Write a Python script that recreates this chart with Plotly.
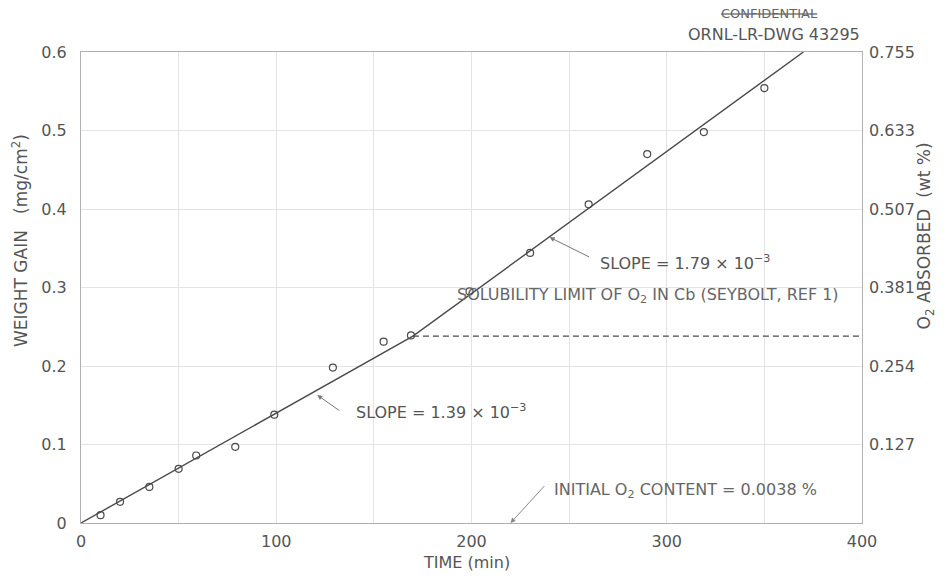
import plotly.graph_objects as go

# Measured data points (open circles)
time_min = [10, 20, 35, 50, 59, 79, 99, 129, 155, 169, 199, 230, 260, 290, 319, 350]
weight_gain = [0.010, 0.027, 0.046, 0.069, 0.086, 0.097, 0.138, 0.198, 0.231, 0.239,
               0.295, 0.344, 0.406, 0.470, 0.498, 0.554]

# Fitted two-slope line
fit_time = [0, 170, 370]
fit_gain = [0, 0.238, 0.6]

# Solubility limit
sol_time = [170, 400]
sol_gain = [0.238, 0.238]

# Axis ticks
left_ticks = [0, 0.1, 0.2, 0.3, 0.4, 0.5, 0.6]
left_labels = ["0", "0.1", "0.2", "0.3", "0.4", "0.5", "0.6"]
right_ticks = [0.1, 0.2, 0.3, 0.4, 0.5, 0.6]
right_labels = ["0.127", "0.254", "0.381", "0.507", "0.633", "0.755"]
x_ticks = [0, 100, 200, 300, 400]

INK = "#4a4a4a"
TXT = "#555"
FONT = "DejaVu Sans"

fig = go.Figure()
fig.add_trace(go.Scatter(x=fit_time, y=fit_gain, mode="lines",
                         line=dict(color=INK, width=1.4), showlegend=False))
fig.add_trace(go.Scatter(x=sol_time, y=sol_gain, mode="lines",
                         line=dict(color=INK, width=1.3, dash="6px,4px"), showlegend=False))
fig.add_trace(go.Scatter(x=time_min, y=weight_gain, mode="markers",
                         marker=dict(symbol="circle-open", size=7, color=INK,
                                     line=dict(width=1.2, color=INK)),
                         showlegend=False))
# invisible trace for right axis
fig.add_trace(go.Scatter(x=[0], y=[0], yaxis="y2", mode="markers",
                         marker=dict(opacity=0), showlegend=False, hoverinfo="skip"))

grid = "#e4e4e4"
axline = "#b0b0b0"
fig.update_layout(
    width=947, height=579,
    margin=dict(l=81, r=85, t=52, b=56),
    paper_bgcolor="white", plot_bgcolor="white",
    font=dict(family=FONT, size=15, color=TXT),
    xaxis=dict(range=[0, 400], tickvals=x_ticks, showgrid=True, gridcolor=grid,
               minor=dict(dtick=50, showgrid=True, gridcolor=grid),
               showline=True, linecolor=axline, mirror=True, zeroline=False,
               ticks="", ticklabelstandoff=4, tickfont=dict(size=16, color=TXT)),
    yaxis=dict(range=[0, 0.6], tickvals=left_ticks, ticktext=left_labels,
               showgrid=True, gridcolor=grid, zeroline=False,
               showline=True, linecolor=axline, mirror=True, ticks="",
               ticklabelstandoff=10, tickfont=dict(size=16, color=TXT)),
    yaxis2=dict(range=[0, 0.6], overlaying="y", side="right",
                tickvals=right_ticks, ticktext=right_labels, showgrid=False,
                zeroline=False, showline=False, ticks="", ticklabelstandoff=6,
                tickfont=dict(size=16, color=TXT)),
)

def paper_note(x, y, text, size, angle=0, anchor="center", color=TXT):
    return dict(xref="paper", yref="paper", x=x, y=y, text=text, textangle=angle,
                xanchor=anchor, yanchor="middle", showarrow=False,
                font=dict(size=size, color=color))

ann = []
ann.append(paper_note(-0.078, 0.599, "WEIGHT GAIN&nbsp;&nbsp;&nbsp;(mg/cm<sup>2</sup>)", 17, -90))
ann.append(paper_note(1.081, 0.609, "O<sub>2</sub> ABSORBED&nbsp;&nbsp;(wt %)", 17, -90))
ann.append(paper_note(0.494, -0.083, "TIME (min)", 16))
ann.append(paper_note(1.0, 1.038, "ORNL-LR-DWG 43295", 16, anchor="right"))
ann.append(paper_note(0.882, 1.081, "<s>CONFIDENTIAL</s>", 13, color="#666"))
ann.append(dict(x=191.5, y=0.29, xanchor="left", yanchor="middle",
                text="SOLUBILITY LIMIT OF O<sub>2</sub> IN Cb (SEYBOLT, REF 1)",
                showarrow=False, font=dict(size=16, color="#666")))
ann.append(dict(x=240, y=0.364, ax=261, ay=0.338, axref="x", ayref="y",
                showarrow=True, arrowhead=2, arrowsize=1, arrowwidth=1, arrowcolor="#777", text=""))
ann.append(dict(x=265, y=0.332, xanchor="left", yanchor="middle",
                text="SLOPE = 1.79 × 10<sup>−3</sup>",
                showarrow=False, font=dict(size=16, color=TXT)))
ann.append(dict(x=121, y=0.163, ax=133, ay=0.142, axref="x", ayref="y",
                showarrow=True, arrowhead=2, arrowsize=1, arrowwidth=1, arrowcolor="#777", text=""))
ann.append(dict(x=140, y=0.142, xanchor="left", yanchor="middle",
                text="SLOPE = 1.39 × 10<sup>−3</sup>",
                showarrow=False, font=dict(size=16, color=TXT)))
ann.append(dict(x=220, y=0.0, ax=238, ay=0.049, axref="x", ayref="y",
                showarrow=True, arrowhead=2, arrowsize=1, arrowwidth=1, arrowcolor="#888", text=""))
ann.append(dict(x=241, y=0.042, xanchor="left", yanchor="middle",
                text="INITIAL O<sub>2</sub> CONTENT = 0.0038 %",
                showarrow=False, font=dict(size=16, color="#666")))
fig.update_layout(annotations=ann)

fig.write_html("out.html")
